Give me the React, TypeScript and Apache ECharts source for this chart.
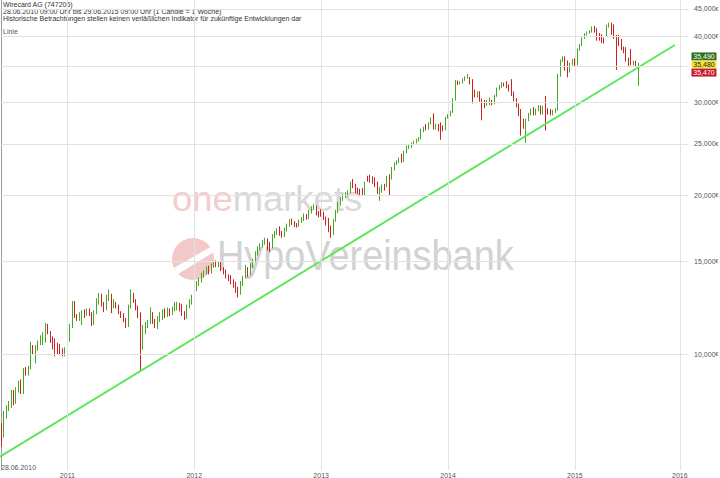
import React, { useEffect, useRef } from "react";
import * as echarts from "echarts";

// ---- texts ----
const titleText = "Wirecard AG (747206)";
const periodText = "28.06.2010 09:00 Uhr bis 29.06.2015 09:00 Uhr (1 Candle = 1 Woche)";
const disclaimerText =
  "Historische Betrachtungen stellen keinen verläßlichen Indikator für zukünftige Entwicklungen dar";
const chartTypeText = "Linie";
const startDateText = "28.06.2010";

// ---- weekly candles [open, close, low, high] (EUR) ----
const candles2010 = [
  [7.25, 7.03, 6.68, 7.4], [7.03, 7.7, 6.95, 7.8], [7.7, 7.9, 7.55, 8.0], [7.9, 8.05, 7.8, 8.15],
  [8.0, 8.45, 7.9, 8.55], [8.45, 8.1, 8.0, 8.55], [8.1, 8.55, 8.05, 8.65], [8.55, 8.8, 8.45, 8.9],
  [8.9, 8.45, 8.4, 8.95], [8.45, 9.3, 8.4, 9.4], [9.3, 9.25, 9.1, 9.45], [9.2, 9.35, 9.1, 9.5],
  [9.4, 10.35, 9.35, 10.55], [10.35, 10.1, 10.0, 10.4], [9.75, 10.3, 9.6, 10.4], [10.3, 10.5, 10.15, 10.6],
  [10.5, 10.75, 10.4, 10.85], [10.6, 10.9, 10.4, 11.0], [10.9, 11.35, 10.5, 11.45], [11.3, 11.0, 10.9, 11.4],
  [11.0, 10.65, 10.5, 11.05], [10.7, 10.4, 10.2, 10.8], [10.6, 10.1, 9.9, 10.7], [10.4, 10.15, 10.0, 10.5],
  [10.3, 10.05, 9.95, 10.45], [10.1, 10.0, 9.9, 10.25], [10.0, 10.2, 9.9, 10.3],
];
const candles2011 = [
  [10.15, 10.55, 10.05, 10.65], [10.6, 11.3, 10.55, 11.4], [11.3, 12.4, 11.2, 12.6], [12.55, 11.8, 11.7, 12.6],
  [11.8, 11.7, 11.55, 11.9], [11.7, 11.85, 11.55, 12.0], [11.6, 12.0, 11.35, 12.1], [11.95, 11.85, 11.7, 12.15],
  [11.85, 12.1, 11.8, 12.2], [12.1, 11.95, 11.8, 12.2], [11.9, 11.4, 11.3, 12.0], [11.4, 12.0, 11.35, 12.1],
  [12.0, 12.6, 11.9, 12.75], [12.6, 12.95, 12.4, 13.05], [12.95, 12.45, 12.3, 13.0], [12.45, 12.2, 12.0, 12.55],
  [12.2, 12.8, 12.1, 12.95], [12.8, 13.1, 12.6, 13.25], [12.9, 12.45, 11.95, 13.0], [12.3, 12.6, 12.2, 12.7],
  [12.5, 12.4, 12.2, 12.55], [12.35, 12.0, 11.9, 12.4], [12.0, 11.8, 11.7, 12.05], [11.85, 11.65, 11.5, 11.95],
  [11.65, 11.3, 11.2, 11.7], [11.3, 12.3, 11.25, 12.4], [12.3, 12.95, 12.2, 13.25], [12.95, 12.6, 12.5, 13.05],
  [12.6, 12.3, 12.1, 12.7], [12.2, 11.9, 11.7, 12.35], [11.9, 10.6, 9.3, 12.0], [10.6, 11.15, 10.2, 11.35],
  [11.1, 11.4, 10.9, 11.5], [11.3, 11.5, 11.2, 11.6], [11.5, 12.1, 11.4, 12.25], [11.95, 11.55, 11.4, 12.0],
  [11.55, 11.3, 11.2, 11.65], [11.3, 11.7, 11.15, 11.8], [11.7, 11.9, 11.5, 12.0], [11.8, 12.05, 11.6, 12.15],
  [12.05, 11.85, 11.7, 12.2], [11.85, 12.1, 11.75, 12.25], [12.1, 11.95, 11.8, 12.2], [11.95, 12.2, 11.85, 12.3],
  [12.2, 12.45, 12.05, 12.55], [12.3, 12.4, 12.1, 12.55], [12.4, 12.2, 12.05, 12.5], [12.35, 11.95, 11.8, 12.45],
  [11.95, 11.75, 11.6, 12.05], [11.75, 12.3, 11.65, 12.4], [12.3, 12.55, 12.2, 12.7], [12.55, 12.85, 12.4, 12.95],
];
const candles2012 = [
  [12.85, 13.35, 12.7, 13.45], [13.35, 13.6, 13.15, 13.75], [13.6, 13.75, 13.45, 13.95], [13.75, 14.1, 13.65, 14.25],
  [14.1, 14.25, 13.95, 14.4], [14.25, 14.55, 14.15, 14.65], [14.6, 14.3, 14.15, 14.7], [14.3, 14.7, 14.2, 14.85],
  [14.7, 14.9, 14.55, 15.0], [14.9, 14.75, 14.6, 15.05], [14.75, 14.85, 14.6, 14.95], [14.85, 14.5, 14.35, 14.95],
  [14.5, 14.3, 14.15, 14.6], [14.4, 14.05, 13.9, 14.45], [14.05, 13.9, 13.75, 14.15], [14.0, 13.7, 13.55, 14.1],
  [13.7, 13.5, 13.35, 13.85], [13.6, 13.3, 13.05, 13.7], [13.3, 13.0, 12.8, 13.4], [13.0, 13.6, 12.95, 13.75],
  [13.6, 13.95, 13.45, 14.05], [13.95, 14.6, 13.9, 14.75], [14.5, 14.2, 14.0, 14.6], [14.2, 14.7, 14.1, 14.85],
  [14.7, 15.0, 14.55, 15.15], [15.0, 15.5, 14.9, 15.65], [15.5, 15.85, 15.35, 16.0], [15.85, 16.05, 15.7, 16.2],
  [16.05, 16.3, 15.9, 16.45], [16.3, 16.45, 16.1, 16.6], [16.45, 16.0, 15.7, 16.55], [16.1, 15.9, 15.6, 16.3],
  [15.9, 16.7, 15.85, 16.85], [16.7, 16.95, 16.55, 17.1], [16.95, 17.15, 16.8, 17.3], [17.35, 16.9, 16.75, 17.45],
  [17.0, 16.75, 16.6, 17.1], [16.75, 17.2, 16.65, 17.35], [17.2, 17.5, 17.05, 17.65], [17.5, 17.9, 17.4, 18.0],
  [17.9, 17.7, 17.55, 18.05], [17.7, 17.55, 17.4, 17.85], [17.55, 17.5, 17.35, 17.7], [17.5, 17.85, 17.4, 17.95],
  [17.85, 18.0, 17.7, 18.15], [18.0, 18.3, 17.85, 18.45], [18.3, 18.1, 17.95, 18.4], [18.1, 18.6, 18.0, 18.75],
  [18.6, 18.9, 18.45, 19.05], [18.9, 19.1, 18.75, 19.2], [19.0, 18.55, 18.3, 19.1], [18.55, 18.3, 18.15, 18.65],
];
const candles2013 = [
  [18.7, 18.4, 18.2, 18.8], [18.5, 18.1, 17.95, 18.6], [18.1, 17.7, 17.5, 18.2], [18.0, 17.2, 17.0, 18.1],
  [17.2, 16.9, 16.6, 17.5], [16.9, 17.9, 16.8, 18.0], [17.9, 18.6, 17.8, 18.75], [18.6, 19.25, 18.5, 19.4],
  [19.25, 19.7, 19.1, 19.85], [19.7, 19.95, 19.5, 20.1], [19.95, 20.1, 19.75, 20.25], [20.0, 20.25, 19.85, 20.4],
  [20.25, 21.0, 20.15, 21.2], [21.3, 20.8, 20.6, 21.45], [20.85, 20.3, 20.15, 21.0], [20.5, 20.25, 20.1, 20.65],
  [20.4, 20.15, 20.0, 20.55], [20.5, 20.1, 19.95, 20.6], [20.15, 21.1, 20.0, 21.2], [21.6, 21.35, 21.2, 21.75],
  [21.6, 21.3, 21.1, 21.85], [21.55, 21.2, 21.0, 21.7], [21.5, 20.95, 20.7, 21.6], [21.1, 20.3, 20.1, 21.2],
  [20.3, 20.5, 19.5, 20.7], [20.5, 20.8, 20.2, 20.95], [20.8, 20.6, 20.4, 21.0], [20.8, 21.6, 20.7, 21.75],
  [21.8, 21.5, 20.0, 21.9], [21.5, 22.4, 21.4, 22.6], [22.4, 22.9, 22.25, 23.05], [22.9, 23.1, 22.8, 23.25],
  [23.1, 23.4, 23.0, 23.55], [23.8, 23.2, 23.0, 23.95], [23.2, 24.1, 23.1, 24.25], [24.1, 24.65, 24.0, 24.8],
  [24.6, 24.75, 24.45, 24.9], [24.75, 25.0, 24.55, 25.15], [25.0, 25.2, 24.85, 25.35], [25.2, 25.4, 25.05, 25.55],
  [25.4, 25.6, 25.25, 25.75], [25.6, 26.5, 25.5, 26.7], [26.5, 26.8, 26.3, 26.95], [27.1, 26.7, 26.5, 27.25],
  [26.7, 27.3, 26.6, 27.45], [27.3, 27.9, 27.2, 28.05], [28.4, 26.8, 26.6, 28.55], [26.8, 27.1, 26.6, 27.3],
  [27.1, 26.6, 26.4, 27.25], [27.3, 25.9, 25.45, 27.45], [26.9, 26.6, 26.4, 27.1], [26.6, 28.0, 26.5, 28.15],
];
const candles2014 = [
  [28.0, 28.3, 27.9, 28.45], [28.3, 28.7, 28.2, 28.85], [28.7, 30.3, 28.6, 30.5], [30.3, 32.8, 30.2, 33.0],
  [32.8, 32.5, 32.3, 32.95], [32.5, 32.65, 32.4, 32.85], [32.65, 33.1, 32.5, 33.25], [33.1, 33.4, 32.9, 33.55],
  [33.4, 33.75, 33.2, 33.9], [33.3, 32.6, 32.4, 33.45], [33.0, 31.5, 29.8, 33.15], [31.5, 30.9, 30.6, 31.65],
  [30.8, 31.3, 30.6, 31.45], [31.3, 30.3, 30.05, 31.45], [30.3, 29.2, 27.7, 30.45], [30.1, 29.4, 29.2, 30.3],
  [29.6, 29.8, 29.5, 30.3], [29.7, 30.5, 29.6, 30.6], [30.2, 29.8, 29.55, 30.3], [29.8, 30.8, 29.7, 30.95],
  [30.8, 31.8, 30.7, 31.95], [31.8, 32.1, 31.6, 32.3], [32.1, 32.5, 31.9, 32.7], [32.5, 32.3, 32.1, 32.65],
  [32.7, 32.0, 31.85, 32.85], [32.2, 31.6, 31.4, 32.4], [33.0, 31.0, 30.8, 33.15], [31.2, 30.3, 30.1, 31.4],
  [30.3, 29.5, 29.3, 30.5], [29.6, 28.4, 28.2, 29.8], [28.9, 26.6, 25.9, 29.1], [27.7, 26.9, 26.7, 27.9],
  [26.9, 27.7, 25.1, 27.9], [27.7, 28.4, 27.6, 28.6], [28.4, 29.0, 28.3, 29.15], [29.2, 28.5, 28.3, 29.35],
  [28.5, 29.0, 28.3, 29.15], [29.0, 29.4, 28.8, 29.6], [29.4, 28.6, 28.4, 29.55], [28.6, 29.3, 28.4, 29.5],
  [29.3, 28.5, 26.5, 30.8], [29.0, 28.6, 28.4, 29.2], [28.9, 28.5, 28.3, 29.1], [28.5, 28.8, 28.3, 29.0],
  [28.8, 29.0, 28.6, 29.2], [29.0, 33.7, 28.9, 33.9], [33.7, 35.9, 33.5, 36.1], [35.9, 36.4, 35.7, 36.6],
  [36.4, 34.8, 34.4, 36.6], [35.8, 34.3, 33.4, 35.95], [34.3, 35.4, 34.1, 35.6], [35.4, 36.0, 35.2, 36.2],
];
const candles2015 = [
  [36.1, 35.3, 35.1, 36.3], [35.3, 37.7, 35.2, 37.9], [37.7, 38.4, 37.5, 38.6], [38.4, 39.6, 38.3, 39.8],
  [39.6, 40.3, 39.5, 40.5], [40.3, 40.6, 40.1, 40.8], [40.6, 40.8, 40.4, 41.0], [40.8, 41.5, 40.6, 41.7],
  [41.6, 40.8, 40.6, 41.8], [41.2, 39.4, 39.2, 41.4], [40.3, 39.4, 39.2, 40.5], [40.1, 39.0, 38.8, 40.3],
  [39.5, 39.0, 38.7, 39.7], [40.0, 41.8, 39.8, 42.0], [41.8, 42.1, 41.5, 42.4], [42.2, 40.5, 40.2, 42.4],
  [41.9, 39.7, 39.5, 42.1], [40.0, 38.1, 34.5, 40.2], [40.0, 38.5, 38.3, 40.2], [39.3, 37.8, 37.6, 39.5],
  [38.0, 37.3, 37.1, 38.2], [37.9, 36.0, 35.8, 38.1], [36.2, 35.3, 35.1, 36.4], [37.6, 35.4, 35.2, 37.8],
  [35.4, 35.7, 35.2, 35.9], [35.7, 35.3, 35.1, 35.9], [32.4, 35.49, 32.2, 35.6],
];

// ---- axis ticks ----
const priceTicks = [10, 15, 20, 25, 30, 35, 40, 45];
const priceTickLabels = ["10,000", "15,000", "20,000", "25,000", "30,000", "", "40,000", "45,000"];
const yearTickWeeks = [27, 79, 131, 183, 235, 278];
const yearTickLabels = ["2011", "2012", "2013", "2014", "2015", "2016"];

// ---- trend line (week index, price) ----
const trendWeeks = [-0.6, 276];
const trendPrices = [6.39, 38.46];

// ---- quote boxes ----
const quoteValues = [35.49, 35.48, 35.47];
const quoteLabels = ["35,490", "35,480", "35,470"];

// ---- layout / style ----
const X_MIN = -0.615;
const X_MAX = 294.06;
const Y_MIN = 6.031;
const Y_MAX = 46.8;
const GRID_END_WEEK = 281.4;
const QUOTE_WEEK = 287.9;
const FONT = "Liberation Sans";

export default function App() {
  const ref = useRef<HTMLDivElement>(null);
  useEffect(() => {
    if (!ref.current) return;
    const chart = echarts.init(ref.current, undefined, { renderer: "svg" });
    const all = [...candles2010, ...candles2011, ...candles2012, ...candles2013, ...candles2014, ...candles2015];
    const candleData = all.map((c, i) => [i, c[0], c[1], c[2], c[3]]);

    const hLines = priceTicks.map((v, i) => [
      { name: priceTickLabels[i], coord: [X_MIN, v] },
      { coord: [GRID_END_WEEK, v] },
    ]);
    const vLines = yearTickWeeks.map((w, i) => ({ name: yearTickLabels[i], xAxis: w }));

    const quoteColors = ["#2d6e1e", "#f2e63a", "#c8182c"];
    const quoteText = ["#ffffff", "#222222", "#ffffff"];
    const quoteOffsets = [-7, 1, 9];

    const headerFont = `7px "${FONT}"`;
    const option: any = {
      animation: false,
      backgroundColor: "#ffffff",
      textStyle: { fontFamily: FONT },
      grid: { left: 0, top: 0, width: 719, height: 470, containLabel: false },
      xAxis: {
        type: "value",
        min: X_MIN,
        max: X_MAX,
        axisLine: { show: false },
        axisTick: { show: false },
        axisLabel: { show: false },
        splitLine: { show: false },
      },
      yAxis: {
        type: "log",
        logBase: 10,
        min: Y_MIN,
        max: Y_MAX,
        position: "right",
        axisLine: { show: true, lineStyle: { color: "#9a9a9a", width: 1 } },
        axisTick: { show: false },
        axisLabel: { show: false },
        splitLine: { show: false },
      },
      graphic: [
        {
          type: "group",
          z: -10,
          silent: true,
          children: [
            {
              type: "text",
              x: 172,
              y: 182,
              scaleX: 1.04,
              style: {
                text: "{p|one}{g|markets}",
                font: `35px "${FONT}"`,
                verticalAlign: "top",
                rich: {
                  p: { fill: "#f5cccc", fontSize: 35, fontFamily: FONT },
                  g: { fill: "#d8d8d8", fontSize: 35, fontFamily: FONT },
                },
              },
            },
            { type: "circle", shape: { cx: 193, cy: 259, r: 21 }, style: { fill: "#f2c8c8" } },
            {
              type: "polygon",
              shape: { points: [[174, 268], [212, 246], [214, 252], [178, 274]] },
              style: { fill: "#ffffff" },
            },
            {
              type: "text",
              x: 217,
              y: 234,
              scaleX: 0.88,
              style: { text: "HypoVereinsbank", font: `43px "${FONT}"`, fill: "#d2d2d2", verticalAlign: "top" },
            },
          ],
        },
        {
          type: "group",
          silent: true,
          children: [
            { type: "text", x: 3, y: 1, style: { text: titleText, font: headerFont, fill: "#333", verticalAlign: "top" } },
            { type: "text", x: 3, y: 8, style: { text: periodText, font: headerFont, fill: "#333", verticalAlign: "top" } },
            { type: "text", x: 3, y: 15, style: { text: disclaimerText, font: headerFont, fill: "#333", verticalAlign: "top" } },
            { type: "text", x: 3, y: 28, style: { text: chartTypeText, font: headerFont, fill: "#555", verticalAlign: "top" } },
            { type: "text", x: 1, y: 463.5, style: { text: startDateText, font: headerFont, fill: "#555", verticalAlign: "top" } },
          ],
        },
      ],
      series: [
        {
          type: "scatter",
          data: [],
          silent: true,
          z: 1,
          markLine: {
            silent: true,
            symbol: ["none", "none"],
            animation: false,
            lineStyle: { type: "solid", color: "#e2e2e2", width: 1 },
            label: { show: false },
            data: [
              ...vLines.map((d) => ({
                ...d,
                label: {
                  show: true,
                  position: "start",
                  distance: 2,
                  formatter: "{b}",
                  color: "#555",
                  fontSize: 7,
                  fontFamily: FONT,
                },
              })),
              ...hLines.map((pair) => [
                {
                  ...pair[0],
                  label: {
                    show: pair[0].name !== "",
                    position: "end",
                    distance: 6,
                    formatter: (p: any) => `{a|${p.name}}{e|€}`,
                    rich: {
                      a: { color: "#555", fontSize: 7, fontFamily: FONT },
                      e: { color: "#555", fontSize: 5, fontFamily: FONT },
                    },
                  },
                },
                pair[1],
              ]),
            ],
          },
        },
        {
          type: "candlestick",
          z: 2,
          dimensions: ["week", "open", "close", "lowest", "highest"],
          encode: { x: "week", y: ["open", "close", "lowest", "highest"] },
          data: candleData,
          barWidth: 1,
          itemStyle: {
            color: "#45a824",
            color0: "#cc2222",
            borderColor: "#45a824",
            borderColor0: "#cc2222",
            borderWidth: 1,
          },
          markPoint: {
            silent: true,
            z: 10,
            data: quoteValues.map((v, i) => ({
              coord: [QUOTE_WEEK, v],
              symbol: "rect",
              symbolSize: [25, 8],
              symbolOffset: [0, quoteOffsets[i]],
              itemStyle: { color: quoteColors[i] },
              label: {
                show: true,
                position: "inside",
                formatter: quoteLabels[i],
                color: quoteText[i],
                fontSize: 7,
                fontFamily: FONT,
              },
            })),
          },
        },
        {
          type: "line",
          z: 3,
          silent: true,
          symbol: "none",
          data: trendWeeks.map((w, i) => [w, trendPrices[i]]),
          lineStyle: { color: "#5ee65a", width: 2 },
        },
      ],
    };
    chart.setOption(option);
    return () => chart.dispose();
  }, []);
  return <div ref={ref} style={{ position: "fixed", left: 0, top: 0, width: 720, height: 478 }} />;
}
